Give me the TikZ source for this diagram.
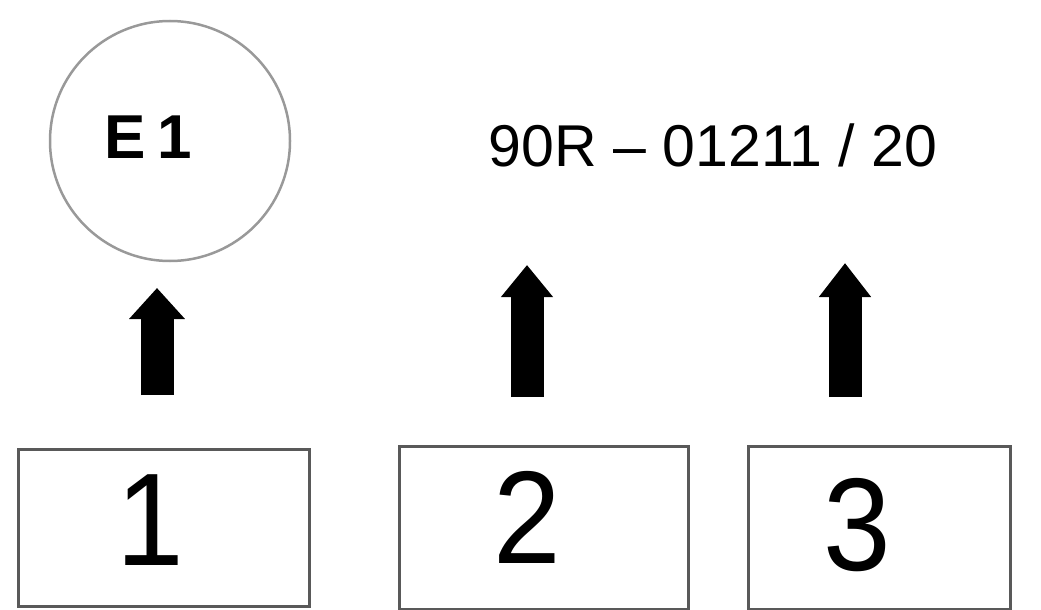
\documentclass[tikz,border=0pt]{standalone}
\usepackage{fontspec}
\setmainfont{Liberation Sans}
\usetikzlibrary{arrows.meta}
\begin{document}
\begin{tikzpicture}[x=1pt,y=-1pt,
  boxframe/.style={draw=black!65,line width=3pt,inner sep=0pt,anchor=north west},
  ringframe/.style={draw=black!40,line width=2.5pt,circle,minimum size=240pt,inner sep=0pt},
  bigdigit/.style={font=\fontsize{132}{140}\selectfont,inner sep=0pt,anchor=base,xscale=0.92},
  marktext/.style={font=\fontsize{59}{62}\selectfont,inner sep=0pt,anchor=base},
  fatarrow/.style={line width=33pt,-{Triangle[width=54pt,length=31pt]}}]
\useasboundingbox (0,0) rectangle (1041,610);
% circle and label
\node[ringframe] (ring) at (170,141) {};
\node[marktext,font=\fontsize{62}{66}\bfseries\selectfont,anchor=base west] (e1) at (104,158) {E\hspace{0.2em}1};
\node[marktext] (code) at (713,166) {90R – 01211 / 20};
% boxes
\node[boxframe,minimum width=291pt,minimum height=157pt] (b1) at (17,448) {};
\node[boxframe,minimum width=289pt,minimum height=163pt] (b2) at (398,445) {};
\node[boxframe,minimum width=262pt,minimum height=163pt] (b3) at (747,445) {};
\node[bigdigit] (d1) at (150,565) {1};
\node[bigdigit] (d2) at (527,563) {2};
\node[bigdigit] (d3) at (857,570) {3};
% arrows
\coordinate (a1s) at (157,395);
\coordinate (a1e) at (157,288);
\coordinate (a2s) at (527,397);
\coordinate (a2e) at (527,265);
\coordinate (a3s) at (845,397);
\coordinate (a3e) at (845,263);
\draw[fatarrow] (a1s) -- (a1e);
\draw[fatarrow,-{Triangle[width=50pt,length=32pt]}] (a2s) -- (a2e);
\draw[fatarrow,-{Triangle[width=50pt,length=34pt]}] (a3s) -- (a3e);
\end{tikzpicture}
\end{document}
